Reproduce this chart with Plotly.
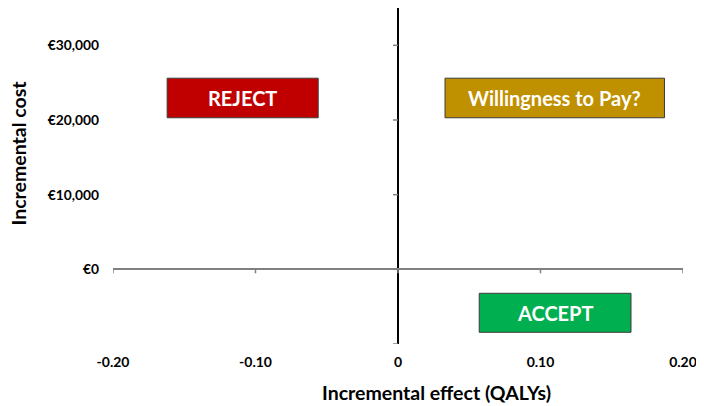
import plotly.graph_objects as go

x_ticks = [-0.2, -0.1, 0, 0.1, 0.2]
x_tick_labels = ['-0.20', '-0.10', '0', '0.10', '0.20']
y_ticks = [-10000, 0, 10000, 20000, 30000]
y_tick_labels = ['', '€0', '€10,000', '€20,000', '€30,000']

x_range = [-0.2, 0.2]
y_range = [-10000, 35000]

# quadrant boxes: label, x extent, y extent
box_labels = ['REJECT', 'Willingness to Pay?', 'ACCEPT']
box_x0 = [-0.162, 0.033, 0.057]
box_x1 = [-0.056, 0.187, 0.1635]
box_y0 = [20300, 20300, -8430]
box_y1 = [25600, 25600, -3210]
box_colors = ['#C00000', '#BF9000', '#00B050']

font_family = 'Lato, Open Sans, sans-serif'

fig = go.Figure()
fig.add_trace(go.Scatter(x=[], y=[], showlegend=False, hoverinfo='skip'))

# tick marks on the crossing axes (pixel sized, anchored at the data position)
for xt in x_ticks:
    fig.add_shape(type='line', xref='x', yref='y', x0=xt, x1=xt,
                  ysizemode='pixel', yanchor=0, y0=0, y1=-4,
                  line=dict(color='#808080', width=1.5))
for yt in y_ticks:
    fig.add_shape(type='line', xref='x', yref='y', y0=yt, y1=yt,
                  xsizemode='pixel', xanchor=0, x0=-5, x1=0,
                  line=dict(color='#808080', width=1.5))

for lab, x0, x1, y0, y1, c in zip(box_labels, box_x0, box_x1, box_y0, box_y1, box_colors):
    fig.add_shape(type='rect', xref='x', yref='y', x0=x0, x1=x1, y0=y0, y1=y1,
                  fillcolor=c, line=dict(color='#3a3a3a', width=1), layer='above')
    fig.add_annotation(x=(x0 + x1) / 2, y=(y0 + y1) / 2, xref='x', yref='y', text='<b>%s</b>' % lab,
                       showarrow=False, font=dict(color='white', size=20, family=font_family))

# axis titles
fig.add_annotation(x=-0.165, y=0.57, xref='paper', yref='paper', text='<b>Incremental cost</b>',
                   xanchor='center', yanchor='middle',
                   textangle=-90, showarrow=False, font=dict(size=19.5, color='black', family=font_family))
fig.add_annotation(x=0.568, y=-0.143, xref='paper', yref='paper', text='<b>Incremental effect (QALYs)</b>',
                   xanchor='center', yanchor='middle',
                   showarrow=False, font=dict(size=19.5, color='black', family=font_family))

# the page body adds an 8px offset, so margins are trimmed by that much on the top/left
fig.update_layout(
    width=704,
    height=406,
    margin=dict(l=105, r=29, t=0, b=70),
    plot_bgcolor='white',
    paper_bgcolor='white',
    showlegend=False,
    font=dict(family=font_family, color='black'),
    xaxis=dict(
        range=x_range, showline=False, showgrid=False, automargin=False,
        zeroline=True, zerolinecolor='black', zerolinewidth=1.5,
        tickvals=x_ticks, ticktext=['<b>%s</b>' % t for t in x_tick_labels], ticks='',
        ticklabelstandoff=8, tickfont=dict(size=14),
    ),
    yaxis=dict(
        range=y_range, showline=False, showgrid=False, automargin=False,
        zeroline=True, zerolinecolor='#808080', zerolinewidth=2,
        tickvals=y_ticks, ticktext=['<b>%s</b>' % t for t in y_tick_labels], ticks='',
        ticklabelstandoff=13, tickfont=dict(size=13.8),
    ),
)

fig.write_html('out.html')
